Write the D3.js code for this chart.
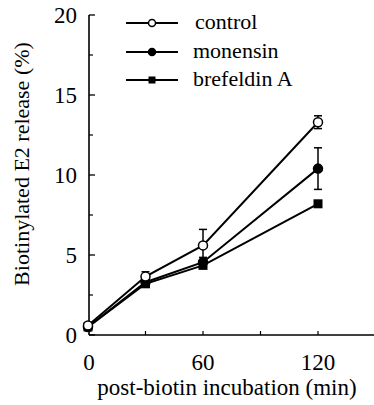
<!DOCTYPE html>
<html>
<head>
<script src="https://cdn.jsdelivr.net/npm/d3@7"></script>
</head>
<body style="margin:0">
<div id="chart"></div>
<script>
// data
const times = [0, 30, 60, 120];
const control = [0.6, 3.65, 5.6, 13.3];
const controlErr = [0, 0.3, 1.0, 0.4];
const monensin = [0.5, 3.3, 4.55, 10.4];
const monensinErr = [0, 0, 0.3, 1.3];
const brefeldin = [0.5, 3.2, 4.35, 8.2];
const brefeldinErr = [0, 0, 0, 0];
const seriesNames = ["control", "monensin", "brefeldin A"];
const yTicks = [0, 5, 10, 15, 20];
const yMinor = [2.5, 7.5, 12.5, 17.5];
const xTicks = [0, 60, 120];
const xMinor = [30, 90];

const width = 374, height = 405;

const svg = d3.select("#chart")
  .append("svg")
  .attr("width", width)
  .attr("height", height);

const x = d3.scaleLinear().domain([0, 120]).range([88, 318]);
const y = d3.scaleLinear().domain([0, 20]).range([335, 15]);

const axisX = 89;

function label(px, py, str, size, anchor) {
  return svg.append("text")
    .attr("x", px)
    .attr("y", py)
    .attr("text-anchor", anchor || "start")
    .attr("font-family", "Liberation Serif")
    .style("font-family", "Liberation Serif")
    .style("font-size", size + "px")
    .text(str);
}

// axes lines
svg.append("line")
  .attr("x1", axisX).attr("x2", axisX)
  .attr("y1", y(20)).attr("y2", y(0))
  .attr("stroke", "#000").attr("stroke-width", 1.6);
svg.append("line")
  .attr("x1", axisX).attr("x2", 374)
  .attr("y1", y(0)).attr("y2", y(0))
  .attr("stroke", "#000").attr("stroke-width", 1.6);

// y ticks (inward)
svg.selectAll(".ytick")
  .data(yTicks)
  .join("line")
  .attr("x1", axisX).attr("x2", axisX + 6)
  .attr("y1", d => y(d)).attr("y2", d => y(d))
  .attr("stroke", "#000").attr("stroke-width", 1.3);
svg.selectAll(".yminor")
  .data(yMinor)
  .join("line")
  .attr("x1", axisX).attr("x2", axisX + 4)
  .attr("y1", d => y(d)).attr("y2", d => y(d))
  .attr("stroke", "#000").attr("stroke-width", 1.2);

yTicks.forEach(d => label(77, y(d) + 8, String(d), 23, "end"));

// x ticks (inward)
svg.selectAll(".xtick")
  .data(xTicks.concat(xMinor).filter(d => d > 0))
  .join("line")
  .attr("x1", d => x(d)).attr("x2", d => x(d))
  .attr("y1", y(0)).attr("y2", y(0) - 4)
  .attr("stroke", "#000").attr("stroke-width", 1.2);

xTicks.forEach(d => label(x(d) + (d === 0 ? 1 : 0), 370, String(d), 23, "middle"));

// axis titles
label(227, 395, "post-biotin incubation (min)", 23, "middle");
label(0, 0, "Biotinylated E2 release (%)", 22, "middle")
  .attr("transform", "translate(29,164) rotate(-90)");

const line = d3.line()
  .x(d => x(d.t))
  .y(d => y(d.v));

const series = [
  { name: seriesNames[0], values: control, err: controlErr, shape: "open" },
  { name: seriesNames[1], values: monensin, err: monensinErr, shape: "filled" },
  { name: seriesNames[2], values: brefeldin, err: brefeldinErr, shape: "square" }
];
series.forEach(s => {
  s.points = times.map((t, i) => ({ t: t, v: s.values[i], e: s.err[i] }));
});

// lines (drawn back to front)
series.slice().reverse().forEach(s => {
  svg.append("path")
    .datum(s.points)
    .attr("d", line)
    .attr("fill", "none")
    .attr("stroke", "#000")
    .attr("stroke-width", 2);
});

// error bars
series.forEach(s => {
  const g = svg.append("g");
  const pts = s.points.filter(d => d.e > 0);
  g.selectAll(".eb")
    .data(pts)
    .join("line")
    .attr("x1", d => x(d.t)).attr("x2", d => x(d.t))
    .attr("y1", d => y(d.v + d.e)).attr("y2", d => y(d.v - d.e))
    .attr("stroke", "#000").attr("stroke-width", 1.5);
  g.selectAll(".capt")
    .data(pts)
    .join("line")
    .attr("x1", d => x(d.t) - 4).attr("x2", d => x(d.t) + 4)
    .attr("y1", d => y(d.v + d.e)).attr("y2", d => y(d.v + d.e))
    .attr("stroke", "#000").attr("stroke-width", 1.5);
  g.selectAll(".capb")
    .data(pts)
    .join("line")
    .attr("x1", d => x(d.t) - 4).attr("x2", d => x(d.t) + 4)
    .attr("y1", d => y(d.v - d.e)).attr("y2", d => y(d.v - d.e))
    .attr("stroke", "#000").attr("stroke-width", 1.5);
});

function drawMarker(sel, shape, cx, cy, small) {
  const r = small ? 3.5 : 4.5;
  if (shape === "square") {
    sel.append("rect")
      .attr("x", cx - r).attr("y", cy - r)
      .attr("width", 2 * r).attr("height", 2 * r)
      .attr("fill", "#000");
  } else {
    sel.append("circle")
      .attr("cx", cx).attr("cy", cy).attr("r", r)
      .attr("fill", shape === "open" ? "#fff" : "#000")
      .attr("stroke", "#000").attr("stroke-width", 1.5);
  }
}

// markers
series.slice().reverse().forEach(s => {
  s.points.forEach(d => drawMarker(svg, s.shape, x(d.t), y(d.v), false));
});

// legend
const legendRows = [23, 52, 80];
series.forEach((s, i) => {
  const ly = legendRows[i];
  svg.append("line")
    .attr("x1", 126).attr("x2", 178)
    .attr("y1", ly).attr("y2", ly)
    .attr("stroke", "#000").attr("stroke-width", 2);
  drawMarker(svg, s.shape, 152, ly, true);
  label(i === 0 ? 195 : 193, ly + 6, s.name, 22);
});
</script>
</body>
</html>
